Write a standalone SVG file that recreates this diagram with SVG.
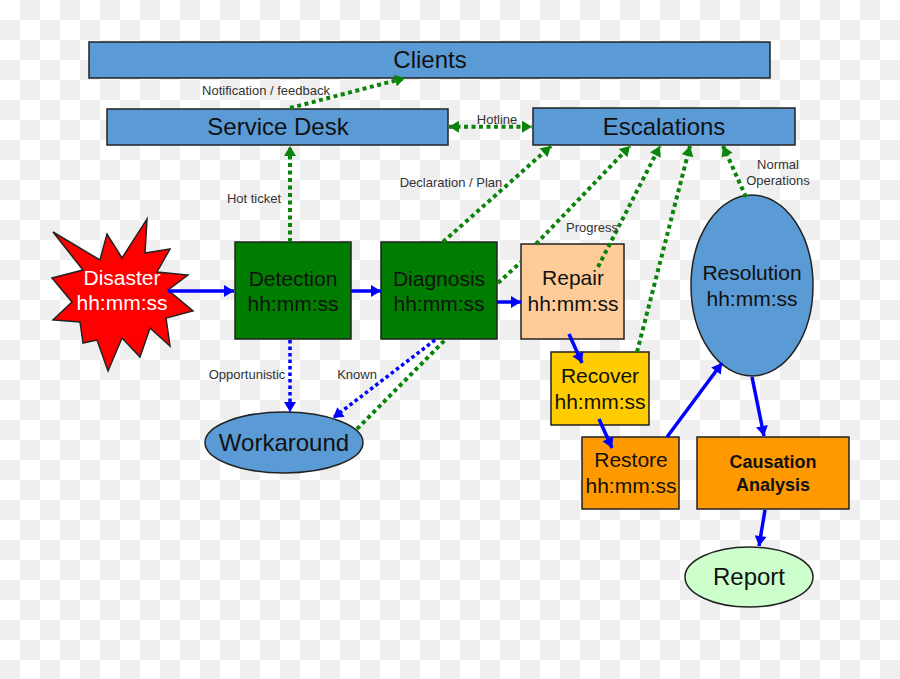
<svg xmlns="http://www.w3.org/2000/svg" width="900" height="679" viewBox="0 0 900 679">
<defs>
<pattern id="checker" width="40" height="40" patternUnits="userSpaceOnUse">
<rect width="40" height="40" fill="#ffffff"/>
<rect x="20" y="0" width="20" height="20" fill="#efefef"/>
<rect x="0" y="20" width="20" height="20" fill="#efefef"/>
</pattern>
<marker id="ag" markerUnits="userSpaceOnUse" markerWidth="12" markerHeight="12" viewBox="0 0 10 12" refX="10" refY="6" orient="auto-start-reverse">
<path d="M0,0 L10,6 L0,12 Z" fill="#0a840a"/>
</marker>
<marker id="ab" markerUnits="userSpaceOnUse" markerWidth="12" markerHeight="12" viewBox="0 0 10 12" refX="10" refY="6" orient="auto">
<path d="M0,0 L10,6 L0,12 Z" fill="#0000ff"/>
</marker>
</defs>
<style>
text{font-family:"Liberation Sans",Arial,sans-serif;text-anchor:middle;fill:#111}
.big{font-size:24px}
.mid{font-size:21px}
.lbl{font-size:13px;fill:#333}
.bold{font-size:18px;font-weight:bold}
.box{stroke:#222;stroke-width:1.5}
.blue{fill:#5b9bd5}
.green{fill:#007d00}
.g{fill:none;stroke:#0a840a;stroke-width:4;stroke-dasharray:4 3.5}
.gl{fill:none;stroke:#0a840a;stroke-width:4;stroke-dasharray:4 3.5;marker-end:url(#ag)}
.g2{fill:none;stroke:#0a840a;stroke-width:4;stroke-dasharray:4 3.5;marker-start:url(#ag);marker-end:url(#ag)}
.bd{fill:none;stroke:#0000ff;stroke-width:3.5;stroke-dasharray:3.5 3;marker-end:url(#ab)}
.bs{fill:none;stroke:#0000ff;stroke-width:3.5;marker-end:url(#ab)}
</style>
<rect width="900" height="679" fill="url(#checker)"/>

<g id="clients">
<rect class="box blue" x="89" y="42" width="681" height="36"/>
<text class="big" x="430" y="68">Clients</text>
</g>
<g id="service-desk">
<rect class="box blue" x="107" y="109" width="341" height="36"/>
<text class="big" x="278" y="135">Service Desk</text>
</g>
<g id="escalations">
<rect class="box blue" x="533" y="108" width="262" height="37"/>
<text class="big" x="664" y="135">Escalations</text>
</g>
<g id="disaster">
<polygon class="box" fill="#ff0000" points="53,232 100,260 107,234 122,258 147,219 145,253 170,249 157,272 188,275 168,290 193,311 166,318 170,346 150,328 140,357 122,338 108,371 97,340 83,343 80,322 53,320 72,302 52,278 83,270"/>
<text class="mid" x="122" y="285" style="fill:#ffffff">Disaster</text>
<text class="mid" x="122" y="310" style="fill:#ffffff">hh:mm:ss</text>
</g>
<g id="detection">
<rect class="box green" x="235" y="242" width="116" height="97"/>
<text class="mid" x="293" y="286">Detection</text>
<text class="mid" x="293" y="311">hh:mm:ss</text>
</g>
<g id="diagnosis">
<rect class="box green" x="381" y="242" width="116" height="97"/>
<text class="mid" x="439" y="286">Diagnosis</text>
<text class="mid" x="439" y="311">hh:mm:ss</text>
</g>
<g id="repair">
<rect class="box" fill="#ffcc99" x="521" y="244" width="103" height="95"/>
<text class="mid" x="573" y="285">Repair</text>
<text class="mid" x="573" y="311">hh:mm:ss</text>
</g>
<g id="recover">
<rect class="box" fill="#ffcc00" x="551" y="352" width="98" height="73"/>
<text class="mid" x="600" y="383">Recover</text>
<text class="mid" x="600" y="409">hh:mm:ss</text>
</g>
<g id="restore">
<rect class="box" fill="#ff9900" x="582" y="437" width="97" height="72"/>
<text class="mid" x="631" y="467">Restore</text>
<text class="mid" x="631" y="493">hh:mm:ss</text>
</g>
<g id="causation">
<rect class="box" fill="#ff9900" x="697" y="437" width="152" height="72"/>
<text class="bold" x="773" y="468">Causation</text>
<text class="bold" x="773" y="491">Analysis</text>
</g>
<g id="resolution">
<ellipse class="box blue" cx="752" cy="285.5" rx="61" ry="90.5"/>
<text class="mid" x="752" y="280">Resolution</text>
<text class="mid" x="752" y="306">hh:mm:ss</text>
</g>
<g id="workaround">
<ellipse class="box blue" cx="284" cy="442.5" rx="79" ry="30.5"/>
<text class="big" x="284" y="451">Workaround</text>
</g>
<g id="report">
<ellipse class="box" fill="#ccffcc" cx="749" cy="577" rx="64" ry="30"/>
<text class="big" x="749" y="585">Report</text>
</g>

<g id="connectors">
<path class="gl" d="M290,108 L405,78"/>
<path class="gl" d="M290,242 L290,146"/>
<path class="g2" d="M449,126.7 L532,126.7"/>
<path class="gl" d="M443,242 L551,146"/>
<path class="g" d="M498,283 L521,262"/>
<path class="gl" d="M536,244 L630,146"/>
<path class="gl" d="M598,267 L660,146"/>
<path class="gl" d="M637,352 L690,146"/>
<path class="gl" d="M746,197 L723,146"/>
<path class="g" d="M357,429 L445,340"/>
<path class="bs" d="M168,291 L234,291"/>
<path class="bs" d="M351,291 L381,291"/>
<path class="bs" d="M497,302 L521,302"/>
<path class="bd" d="M290,340 L290,412"/>
<path class="bd" d="M435,340 L333,418"/>
<path class="bs" d="M569,334 L582,363"/>
<path class="bs" d="M599,419 L612,448"/>
<path class="bs" d="M667,437 L722,363"/>
<path class="bs" d="M752,377 L764,436"/>
<path class="bs" d="M765,510 L759,546"/>
</g>

<g id="labels">
<text class="lbl" x="266" y="95">Notification / feedback</text>
<text class="lbl" x="254" y="203">Hot ticket</text>
<text class="lbl" x="497" y="124">Hotline</text>
<text class="lbl" x="451" y="187">Declaration / Plan</text>
<text class="lbl" x="592" y="232">Progress</text>
<text class="lbl" x="778" y="169">Normal</text>
<text class="lbl" x="778" y="185">Operations</text>
<text class="lbl" x="247" y="379">Opportunistic</text>
<text class="lbl" x="357" y="379">Known</text>
</g>
</svg>
